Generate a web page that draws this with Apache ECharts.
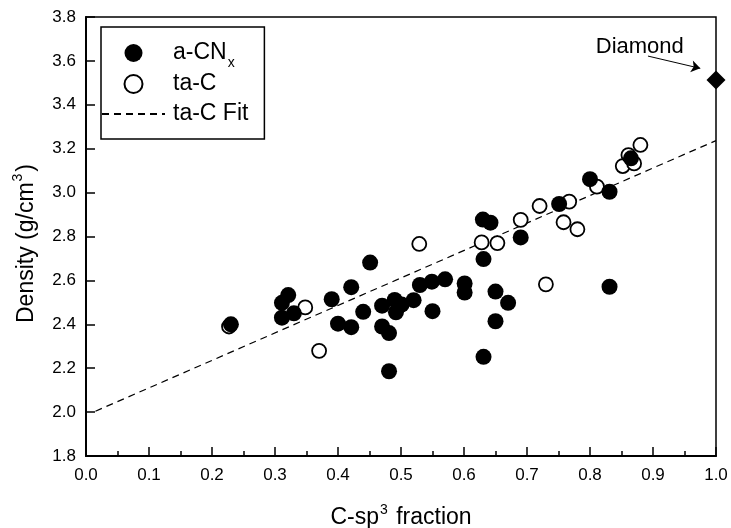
<!DOCTYPE html>
<html>
<head>
<meta charset="utf-8">
<script src="https://cdn.jsdelivr.net/npm/echarts@6/dist/echarts.min.js"></script>
<style>html,body{margin:0;padding:0;background:#fff}#c{width:731px;height:528px}</style>
</head>
<body>
<div id="c"></div>
<script>
// a-CNx (filled circles): [C-sp3 fraction, density]
const aCNx = [
  [0.230, 2.400], [0.311, 2.498], [0.321, 2.533], [0.311, 2.430], [0.330, 2.450],
  [0.390, 2.514], [0.400, 2.403], [0.421, 2.569], [0.421, 2.387], [0.440, 2.457],
  [0.451, 2.681], [0.470, 2.485], [0.470, 2.390], [0.481, 2.360], [0.481, 2.186],
  [0.490, 2.511], [0.492, 2.455], [0.501, 2.490], [0.520, 2.510], [0.530, 2.579],
  [0.549, 2.594], [0.550, 2.460], [0.570, 2.605], [0.601, 2.586], [0.601, 2.545],
  [0.630, 2.877], [0.642, 2.863], [0.631, 2.697], [0.631, 2.252], [0.650, 2.549],
  [0.650, 2.414], [0.670, 2.498], [0.690, 2.796], [0.751, 2.948], [0.800, 3.061],
  [0.831, 3.004], [0.831, 2.571], [0.865, 3.156]
];
// ta-C (open circles)
const taC = [
  [0.227, 2.390], [0.348, 2.477], [0.370, 2.279], [0.529, 2.766], [0.628, 2.773],
  [0.653, 2.770], [0.690, 2.876], [0.720, 2.939], [0.730, 2.582], [0.767, 2.959],
  [0.758, 2.865], [0.780, 2.833], [0.811, 3.027], [0.852, 3.121], [0.861, 3.171],
  [0.870, 3.133], [0.880, 3.217]
];
// ta-C fit line endpoints
const fitLine = [[0.015, 2.004], [1.0, 3.237]];
// diamond reference point
const diamond = [[1.0, 3.513]];
// annotation
const diamondLabelPos = [0.879, 3.663];
const arrowFrom = [0.892, 3.622];
const arrowTo = [0.975, 3.566];

const xMin = 0, xMax = 1, xStep = 0.1;
const yMin = 1.8, yMax = 3.8, yStep = 0.2;

const FONT = '"Liberation Sans", Arial, sans-serif';
const chart = echarts.init(document.getElementById('c'), null, {renderer: 'canvas'});

chart.setOption({
  animation: false,
  backgroundColor: '#fff',
  textStyle: {fontFamily: FONT, color: '#000'},
  grid: {left: 86, right: 15, top: 17, bottom: 72, show: true, borderColor: '#000', borderWidth: 1.5,
         containLabel: false, outerBoundsMode: 'none'},
  legend: {
    data: [
      {name: 'a-CNx'},
      {name: 'ta-C'},
      {name: 'ta-C Fit', itemStyle: {color: 'rgba(0,0,0,0)', borderWidth: 0, opacity: 0}}
    ],
    orient: 'vertical',
    left: 101, top: 27,
    padding: [9, 16, 9, 0],
    borderColor: '#000', borderWidth: 1.5,
    itemWidth: 63, itemHeight: 18, itemGap: -2,
    selectedMode: false,
    formatter: function (n) { return n === 'a-CNx' ? 'a-CN{sub|x}' : n; },
    textStyle: {
      fontFamily: FONT, fontSize: 23, color: '#000', lineHeight: 32, padding: [0, 0, 0, 3],
      rich: {sub: {fontFamily: FONT, fontSize: 14, lineHeight: 1, verticalAlign: 'middle', padding: [20, 0, 0, 1]}}
    }
  },
  xAxis: {
    type: 'value', min: xMin, max: xMax, interval: xStep,
    name: 'C-sp{sup|3} fraction',
    nameLocation: 'middle', nameGap: 47,
    nameTextStyle: {fontFamily: FONT, fontSize: 23, color: '#000', lineHeight: 30,
      rich: {sup: {fontFamily: FONT, fontSize: 14, verticalAlign: 'top', lineHeight: 14, padding: [0, 2, 0, 1]}}},
    axisLine: {show: true, onZero: false, lineStyle: {color: '#000', width: 2}},
    axisTick: {show: true, inside: true, length: 9, lineStyle: {color: '#000', width: 1.5}},
    minorTick: {show: true, splitNumber: 2, length: 5, lineStyle: {color: '#000', width: 1.5}},
    splitLine: {show: false},
    axisLabel: {fontFamily: FONT, fontSize: 17, color: '#000', margin: 11, formatter: v => v.toFixed(1)}
  },
  yAxis: {
    type: 'value', min: yMin, max: yMax, interval: yStep,
    name: 'Density (g/cm{sup|3})',
    nameLocation: 'middle', nameGap: 41, nameRotate: 90,
    nameTextStyle: {fontFamily: FONT, fontSize: 23, color: '#000', lineHeight: 30, padding: [0, 14, 0, 0],
      rich: {sup: {fontFamily: FONT, fontSize: 14, verticalAlign: 'top', lineHeight: 14, padding: [0, 2, 0, 1]}}},
    axisLine: {show: true, onZero: false, lineStyle: {color: '#000', width: 2}},
    axisTick: {show: true, inside: true, length: 9, lineStyle: {color: '#000', width: 1.5}},
    splitLine: {show: false},
    axisLabel: {fontFamily: FONT, fontSize: 17, color: '#000', margin: 10, formatter: v => v.toFixed(1)}
  },
  series: [
    {
      name: 'ta-C Fit', type: 'line', data: fitLine, symbol: 'none', silent: true,
      lineStyle: {color: '#000', width: 1.2, type: [7, 5]}, itemStyle: {color: '#000'}, z: 1
    },
    {
      name: 'ta-C', type: 'scatter', data: taC, symbol: 'circle', symbolSize: 14,
      itemStyle: {color: '#fff', borderColor: '#000', borderWidth: 1.8, opacity: 1}, z: 2
    },
    {
      name: 'a-CNx', type: 'scatter', data: aCNx, symbol: 'circle', symbolSize: 16,
      itemStyle: {color: '#000', opacity: 1}, z: 3
    },
    {
      name: 'Diamond', type: 'scatter', data: diamond, symbol: 'diamond', symbolSize: 19, clip: false,
      itemStyle: {color: '#000', opacity: 1}, z: 4,
      markPoint: {
        symbol: 'circle', symbolSize: 0, silent: true,
        data: [{coord: diamondLabelPos, value: 'Diamond'}],
        label: {show: true, position: 'inside', formatter: 'Diamond', fontFamily: FONT, fontSize: 22, color: '#000'}
      },
      markLine: {
        silent: true, symbol: ['none', 'arrow'], symbolSize: 9,
        label: {show: false},
        lineStyle: {color: '#000', width: 1, type: 'solid'},
        data: [[{coord: arrowFrom}, {coord: arrowTo}]]
      }
    }
  ]
});
</script>
</body>
</html>
